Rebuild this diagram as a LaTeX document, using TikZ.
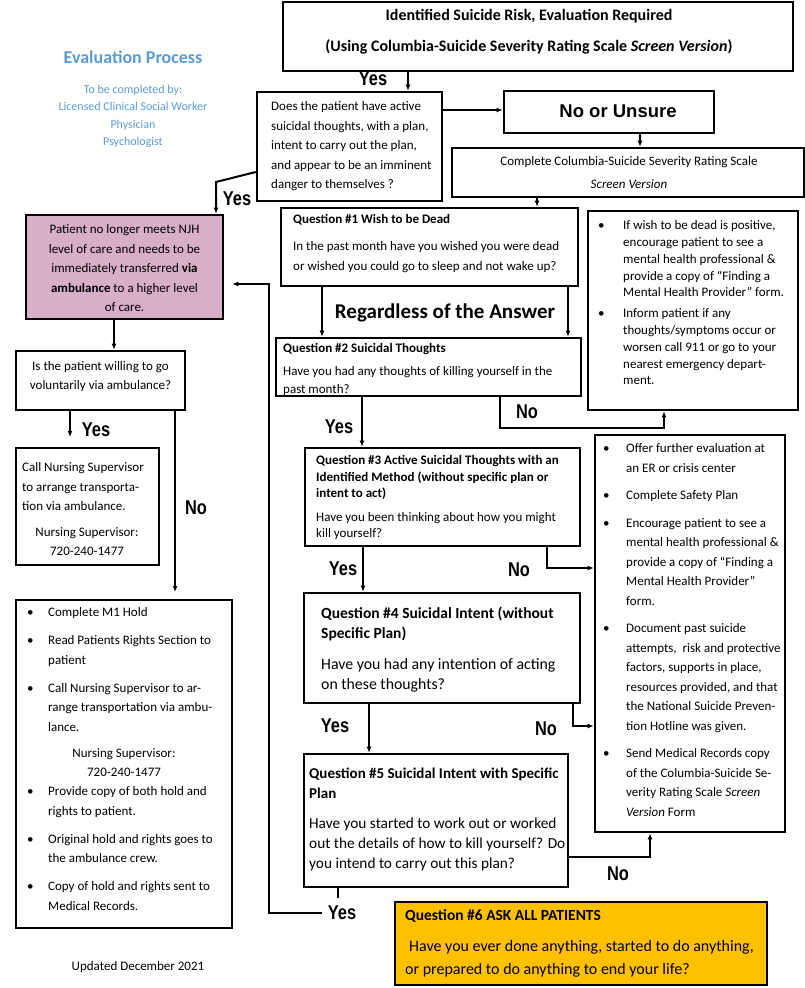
\documentclass[tikz,border=0pt]{standalone}
\usepackage{fontspec}
\setmainfont{Carlito}
\newfontfamily\lblfont[FakeStretch=0.82]{Liberation Sans}
\newfontfamily\arialfont{Liberation Sans}
\usetikzlibrary{arrows.meta}
\definecolor{mauve}{HTML}{D8AFC7}
\definecolor{amber}{HTML}{FFC000}
\definecolor{evblue}{HTML}{5B9BD5}
\newcommand\fs[2]{\fontsize{#1}{#2}\selectfont}
\newcommand\TL[1]{\begin{tabular}[t]{@{}l@{}}#1\end{tabular}}
\newcommand\TC[1]{\begin{tabular}[t]{@{}c@{}}#1\end{tabular}}
\newcommand\BL[2]{\begin{tabular}[t]{@{}p{#1}@{}l@{}}#2\end{tabular}}
\tikzset{
  box/.style={draw, line width=2.6pt, inner sep=0pt},
  conn/.style={line width=2pt},
  arr/.style={conn, -{Latex[length=6pt,width=5pt]}},
  lbl/.style={font={\lblfont\bfseries\fs{20}{22}}, inner sep=0pt},
  txt/.style={inner sep=0pt, font={\fs{13}{19.5}}},
}
\begin{document}
\begin{tikzpicture}[x=1pt,y=-1pt]
\useasboundingbox (0,0) rectangle (805,988);
% filled boxes
\node[box, fill=mauve, minimum width=197, minimum height=104] (purple) at (124.5,267) {};
\node[box, fill=amber, minimum width=372, minimum height=83] (q6) at (581,943.5) {};
% texts
\node[inner sep=0pt, anchor=base, text=evblue, font={\bfseries\fs{18}{20}}] (evtitle) at (133,63.4) {Evaluation Process};
\node[inner sep=0pt, anchor=base, text=evblue, font={\fs{12}{17.3}}] (evsub) at (133,93.6) {\TC{To be completed by:\\Licensed Clinical Social Worker\\Physician\\Psychologist}};
\node[inner sep=0pt, anchor=base, font={\bfseries\fs{16}{31}}] (toptxt) at (529,20.8) {\TC{Identified Suicide Risk, Evaluation Required\\(Using Columbia-Suicide Severity Rating Scale \textit{Screen Version})}};
\node[txt, anchor=base west] (q0txt) at (271,110.9) {\TL{Does the patient have active\\suicidal thoughts, with a plan,\\intent to carry out the plan,\\and appear to be an imminent\\danger to themselves ?}};
\node[inner sep=0pt, anchor=base, font={\arialfont\bfseries\fs{18.5}{20}}] (unsuretxt) at (618,117.7) {No or Unsure};
\node[txt, anchor=base, font={\fs{13}{23}}] (comptxt) at (629,165.9) {\TC{Complete Columbia-Suicide Severity Rating Scale\\\textit{Screen Version}}};
\node[txt, anchor=base west, font={\bfseries\fs{13}{16}}] (q1title) at (293,223.9) {Question \#1 Wish to be Dead};
\node[txt, anchor=base west, font={\fs{13}{20}}] (q1body) at (293,250.9) {\TL{In the past month have you wished you were dead\\or wished you could go to sleep and not wake up?}};
\node[inner sep=0pt, anchor=base, font={\bfseries\fs{21}{24}}] (regard) at (445,318.3) {Regardless of the Answer};
\node[txt, anchor=base west, font={\bfseries\fs{13}{16}}] (q2title) at (283,352.9) {Question \#2 Suicidal Thoughts};
\node[txt, anchor=base west, font={\fs{13}{18}}] (q2body) at (283,375.9) {\TL{Have you had any thoughts of killing yourself in the\\past month?}};
\node[txt, anchor=base west, font={\bfseries\fs{13}{16.5}}] (q3title) at (316,464.9) {\TL{Question \#3 Active Suicidal Thoughts with an\\Identified Method (without specific plan or\\intent to act)}};
\node[txt, anchor=base west, font={\fs{13}{15.5}}] (q3body) at (316,521.9) {\TL{Have you been thinking about how you might\\kill yourself?}};
\node[txt, anchor=base west, font={\bfseries\fs{15.5}{20}}] (q4title) at (321,618.6) {\TL{Question \#4 Suicidal Intent (without\\Specific Plan)}};
\node[txt, anchor=base west, font={\fs{15.8}{20}}] (q4body) at (321,669.7) {\TL{Have you had any intention of acting\\on these thoughts?}};
\node[txt, anchor=base west, font={\bfseries\fs{15}{20}}] (q5title) at (309,778.6) {\TL{Question \#5 Suicidal Intent with Specific\\Plan}};
\node[txt, anchor=base west, font={\fs{15.3}{20}}] (q5body) at (309,828.7) {\TL{Have you started to work out or worked\\out the details of how to kill yourself? Do\\you intend to carry out this plan?}};
\node[txt, anchor=base west, font={\bfseries\fs{15.5}{18}}] (q6title) at (405,920.6) {Question \#6 ASK ALL PATIENTS};
\node[txt, anchor=base west, font={\fs{16}{23}}] (q6body) at (405,951.8) {\TL{\hspace*{4pt}Have you ever done anything, started to do anything,\\or prepared to do anything to end your life?}};
\node[txt, anchor=base west, font={\fs{13}{16.75}}] (i1txt) at (598,229.9) {\BL{25pt}{%
\textbullet & If wish to be dead is positive,\\
 & encourage patient to see a\\
 & mental health professional \&\\
 & provide a copy of “Finding a\\
 & Mental Health Provider” form.\\[4.25pt]
\textbullet & Inform patient if any\\
 & thoughts/symptoms occur or\\
 & worsen call 911 or go to your\\
 & nearest emergency depart-\\
 & ment.}};
\node[txt, anchor=base west] (i2txt) at (603,452.9) {\BL{23pt}{%
\textbullet & Offer further evaluation at\\
 & an ER or crisis center\\[8pt]
\textbullet & Complete Safety Plan\\[8pt]
\textbullet & Encourage patient to see a\\
 & mental health professional \&\\
 & provide a copy of “Finding a\\
 & Mental Health Provider”\\
 & form.\\[8pt]
\textbullet & Document past suicide\\
 & attempts,~ risk and protective\\
 & factors, supports in place,\\
 & resources provided, and that\\
 & the National Suicide Preven-\\
 & tion Hotline was given.\\[8pt]
\textbullet & Send Medical Records copy\\
 & of the Columbia-Suicide Se-\\
 & verity Rating Scale \textit{Screen}\\
 & \textit{Version} Form}};
\node[txt, anchor=base] (purpletxt) at (124.5,233.9) {\TC{Patient no longer meets NJH\\level of care and needs to be\\immediately transferred \textbf{via}\\\textbf{ambulance} to a higher level\\of care.}};
\node[txt, anchor=base, font={\fs{13}{19}}] (willtxt) at (100.5,370.9) {\TC{Is the patient willing to go\\voluntarily via ambulance?}};
\node[txt, anchor=base west] (calltxt) at (22,471.9) {\TL{Call Nursing Supervisor\\to arrange transporta-\\tion via ambulance.}};
\node[txt, anchor=base, font={\fs{13}{19}}] (callnum) at (87,536.9) {\TC{Nursing Supervisor:\\720-240-1477}};
\node[txt, anchor=base west] (m1a) at (27,616.9) {\BL{21pt}{%
\textbullet & Complete M1 Hold\\[8.5pt]
\textbullet & Read Patients Rights Section to\\
 & patient\\[8.5pt]
\textbullet & Call Nursing Supervisor to ar-\\
 & range transportation via ambu-\\
 & lance.}};
\node[txt, anchor=base, font={\fs{13}{19}}] (m1b) at (124,757.9) {\TC{Nursing Supervisor:\\720-240-1477}};
\node[txt, anchor=base west] (m1c) at (27,795.9) {\BL{21pt}{%
\textbullet & Provide copy of both hold and\\
 & rights to patient.\\[8.5pt]
\textbullet & Original hold and rights goes to\\
 & the ambulance crew.\\[8.5pt]
\textbullet & Copy of hold and rights sent to\\
 & Medical Records.}};
\node[txt, anchor=base] (updated) at (138,970.9) {Updated December 2021};
% white boxes
\node[box, minimum width=510, minimum height=69] (top) at (538,36.5) {};
\node[box, minimum width=185, minimum height=109] (q0) at (349.5,146.5) {};
\node[box, minimum width=210, minimum height=42] (unsure) at (609,112) {};
\node[box, minimum width=352, minimum height=49] (complete) at (628,172.5) {};
\node[box, minimum width=297, minimum height=78] (q1) at (429.5,247) {};
\node[box, minimum width=305, minimum height=58] (q2) at (428.5,367) {};
\node[box, minimum width=210, minimum height=199] (info1) at (693,310.5) {};
\node[box, minimum width=275, minimum height=98] (q3) at (442.5,497) {};
\node[box, minimum width=276, minimum height=110] (q4) at (442,648) {};
\node[box, minimum width=264, minimum height=133] (q5) at (436,820.5) {};
\node[box, minimum width=190, minimum height=397] (info2) at (690,633.5) {};
\node[box, minimum width=169, minimum height=59] (willing) at (100.5,380.5) {};
\node[box, minimum width=143, minimum height=117] (call) at (87.5,506.5) {};
\node[box, minimum width=216, minimum height=328] (m1) at (124,764) {};
% labels
\node[lbl] (yes0) at (373,79) {Yes};
\node[lbl] (yes0b) at (237,199) {Yes};
\node[lbl] (no2) at (527,412) {No};
\node[lbl] (yes2) at (339,427) {Yes};
\node[lbl] (no3) at (519,570) {No};
\node[lbl] (yes3) at (343,569) {Yes};
\node[lbl] (no4) at (546,729) {No};
\node[lbl] (yes4) at (335,726) {Yes};
\node[lbl] (no5) at (618,874) {No};
\node[lbl] (yes5) at (342,913) {Yes};
\node[lbl] (yesw) at (96,430) {Yes};
\node[lbl] (now) at (196,508) {No};
% connectors
\draw[arr] (408,0 |- top.south) -- (408,0 |- q0.north);
\draw[arr] (0,110 -| q0.east) -- (0,110 -| unsure.west);
\draw[arr] (640,0 |- unsure.south) -- (640,0 |- complete.north);
\draw[arr] (537,0 |- complete.south) -- (537,0 |- q1.north);
\draw[arr] (322,0 |- q1.south) -- (322,0 |- q2.north);
\draw[arr] (568,0 |- q1.south) -- (568,0 |- q2.north);
\draw[arr] (500,0 |- q2.south) |- (664,428) -- (664,0 |- info1.south);
\draw[arr] (362,0 |- q2.south) -- (362,0 |- q3.north);
\draw[arr] (547,0 |- q3.south) |- (0,568 -| info2.west);
\draw[arr] (363,0 |- q3.south) -- (363,0 |- q4.north);
\draw[arr] (573,0 |- q4.south) |- (0,726 -| info2.west);
\draw[arr] (369,0 |- q4.south) -- (369,0 |- q5.north);
\draw[arr] (0,857 -| q5.east) -| (650,0 |- info2.south);
\draw[conn] (338,0 |- q5.south) -- (338,898);
\draw[arr, shorten >=8pt] ([xshift=-6pt]yes5.west) -- (269,0 |- yes5.west) |- (0,284 -| purple.east);
\draw[arr] (0,172 -| q0.west) -- (216,182) -- (216,0 |- purple.north);
\draw[arr] (114,0 |- purple.south) -- (114,0 |- willing.north);
\draw[arr] (70,0 |- willing.south) -- (70,437);
\draw[arr] (175,0 |- willing.south) -- (175,592);
\end{tikzpicture}
\end{document}
